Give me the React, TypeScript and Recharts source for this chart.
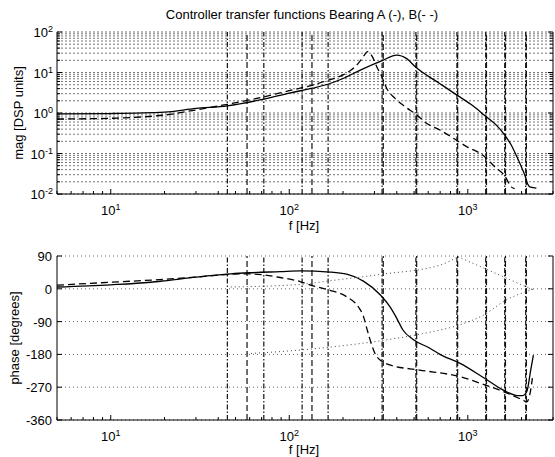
import React from 'react';
import { LineChart, Line, XAxis, YAxis, CartesianGrid, ReferenceLine } from 'recharts';

const FONT = '"Liberation Sans", Arial, Helvetica, sans-serif';

// axis ticks
const FREQ_TICKS = [5, 6, 7, 8, 9, 10, 20, 30, 40, 50, 60, 70, 80, 90, 100, 200, 300, 400, 500, 600, 700, 800, 900, 1000, 2000, 3000];
const FREQ_LABELS = [10, 100, 1000];
const MAG_TICKS = [
  0.01, 0.02, 0.03, 0.04, 0.05, 0.06, 0.07, 0.08, 0.09,
  0.1, 0.2, 0.3, 0.4, 0.5, 0.6, 0.7, 0.8, 0.9,
  1, 2, 3, 4, 5, 6, 7, 8, 9,
  10, 20, 30, 40, 50, 60, 70, 80, 90,
  100,
];
const MAG_LABELS = [0.01, 0.1, 1, 10, 100];
const PHASE_TICKS = [-360, -270, -180, -90, 0, 90];

// vertical marker frequencies (Hz)
const MARKS_DASHDOT = [45, 72, 118, 165, 331, 512, 869, 1260, 1610, 2110];
const MARKS_DASHED = [58, 134, 336, 517, 877, 1272, 1625, 2128];

// magnitude, bearing A (solid)
const magA = [
  { f: 5, v: 0.95 }, { f: 10, v: 0.97 }, { f: 20, v: 1.05 }, { f: 30, v: 1.3 },
  { f: 45, v: 1.5 }, { f: 72, v: 2.2 }, { f: 100, v: 3.1 }, { f: 135, v: 4.1 },
  { f: 166, v: 5.2 }, { f: 200, v: 7.1 }, { f: 250, v: 11.5 }, { f: 334, v: 20 },
  { f: 400, v: 27 }, { f: 455, v: 22 }, { f: 512, v: 13.4 }, { f: 698, v: 5.3 },
  { f: 865, v: 2.8 }, { f: 1072, v: 1.49 }, { f: 1254, v: 0.84 }, { f: 1440, v: 0.51 },
  { f: 1610, v: 0.286 }, { f: 1750, v: 0.162 }, { f: 1900, v: 0.076 }, { f: 2030, v: 0.039 },
  { f: 2100, v: 0.027 }, { f: 2160, v: 0.018 }, { f: 2250, v: 0.0147 }, { f: 2420, v: 0.0139 },
];

// magnitude, bearing B (dashed)
const magB = [
  { f: 5, v: 0.71 }, { f: 10, v: 0.74 }, { f: 15, v: 0.8 }, { f: 20, v: 0.89 },
  { f: 30, v: 1.19 }, { f: 45, v: 1.64 }, { f: 72, v: 2.5 }, { f: 100, v: 3.56 },
  { f: 135, v: 4.9 }, { f: 166, v: 6.5 }, { f: 200, v: 8.7 }, { f: 222, v: 11.5 },
  { f: 244, v: 17 }, { f: 262, v: 26 }, { f: 274, v: 32.7 }, { f: 292, v: 24.6 },
  { f: 309, v: 13.9 }, { f: 330, v: 7.9 }, { f: 351, v: 4.1 }, { f: 391, v: 2.3 },
  { f: 445, v: 1.43 }, { f: 512, v: 0.93 }, { f: 587, v: 0.56 }, { f: 698, v: 0.38 },
  { f: 828, v: 0.24 }, { f: 980, v: 0.15 }, { f: 1225, v: 0.088 }, { f: 1415, v: 0.047 },
  { f: 1610, v: 0.028 }, { f: 1750, v: 0.015 }, { f: 1830, v: 0.0135 },
];

// phase, bearing A (solid)
const phA = [
  { f: 5, p: 5 }, { f: 10, p: 11 }, { f: 16.7, p: 18 }, { f: 20, p: 22 }, { f: 30, p: 32 },
  { f: 47, p: 41 }, { f: 60, p: 44 }, { f: 89, p: 47 }, { f: 115, p: 49 }, { f: 169, p: 46 },
  { f: 210, p: 40 }, { f: 260, p: 21 }, { f: 324, p: -17 }, { f: 366, p: -49 }, { f: 400, p: -81 },
  { f: 433, p: -113 }, { f: 494, p: -139 }, { f: 613, p: -163 }, { f: 698, p: -180 }, { f: 900, p: -204 },
  { f: 1245, p: -246 }, { f: 1580, p: -278 }, { f: 1900, p: -293 }, { f: 2030, p: -293 },
  { f: 2140, p: -282 }, { f: 2250, p: -223 }, { f: 2330, p: -182 },
];

// phase, bearing B (dashed)
const phB = [
  { f: 5, p: 10 }, { f: 10, p: 18 }, { f: 20, p: 26 }, { f: 30, p: 32 }, { f: 47, p: 40 },
  { f: 60, p: 41 }, { f: 72, p: 38 }, { f: 89, p: 31 }, { f: 115, p: 20 }, { f: 136, p: 8 },
  { f: 169, p: -4 }, { f: 210, p: -22 }, { f: 244, p: -50 }, { f: 260, p: -75 }, { f: 274, p: -115 },
  { f: 290, p: -155 }, { f: 309, p: -186 }, { f: 366, p: -209 }, { f: 538, p: -223 }, { f: 900, p: -241 },
  { f: 1220, p: -262 }, { f: 1580, p: -282 }, { f: 2030, p: -305 }, { f: 2140, p: -310 },
  { f: 2220, p: -292 }, { f: 2300, p: -245 },
];

// thin dotted phase traces
const dotA = [{ f: 47, p: 5 }, { f: 115, p: 12 }, { f: 169, p: 22 }, { f: 330, p: 40 }, { f: 700, p: 65 }, { f: 880, p: 88 }];
const dotA2 = [{ f: 880, p: 88 }, { f: 2300, p: -2 }];
const dotB = [{ f: 58, p: -178 }, { f: 115, p: -168 }, { f: 200, p: -156 }, { f: 330, p: -142 }, { f: 600, p: -120 }, { f: 900, p: -99 }, { f: 1245, p: -70 }, { f: 1610, p: -33 }, { f: 2330, p: -1 }];

const BottomFreqTick = ({ x, y, payload }: any) => {
  const v = payload.value;
  const major = FREQ_LABELS.includes(v);
  return (
    <g>
      <line x1={x} x2={x} y1={y} y2={y - (major ? 5 : 3)} stroke="#000" />
      {major && (
        <text x={x} y={y + 21} textAnchor="middle" fontSize={13} fontFamily={FONT} fill="#000">
          10<tspan dy={-5} fontSize={9}>{Math.round(Math.log10(v))}</tspan>
        </text>
      )}
    </g>
  );
};

const TopFreqTick = ({ x, y, payload }: any) => {
  const major = FREQ_LABELS.includes(payload.value);
  return <line x1={x} x2={x} y1={y} y2={y + (major ? 5 : 3)} stroke="#000" />;
};

const MagTick = ({ x, y, payload }: any) => {
  const v = payload.value;
  const major = MAG_LABELS.includes(v);
  return (
    <g>
      <line x1={x} x2={x + (major ? 5 : 3)} y1={y} y2={y} stroke="#000" />
      {major && (
        <text x={x - 4} y={y + 5} textAnchor="end" fontSize={13} fontFamily={FONT} fill="#000">
          10<tspan dy={-5} fontSize={9}>{Math.round(Math.log10(v))}</tspan>
        </text>
      )}
    </g>
  );
};

const RightMagTick = ({ x, y, payload }: any) => {
  const major = MAG_LABELS.includes(payload.value);
  return <line x1={x} x2={x - (major ? 5 : 3)} y1={y} y2={y} stroke="#000" />;
};

const PhaseTick = ({ x, y, payload }: any) => (
  <g>
    <line x1={x} x2={x + 5} y1={y} y2={y} stroke="#000" />
    <text x={x - 5} y={y + 5} textAnchor="end" fontSize={13} fontFamily={FONT} fill="#000">
      {payload.value}
    </text>
  </g>
);

const RightPhaseTick = ({ x, y }: any) => <line x1={x} x2={x - 5} y1={y} y2={y} stroke="#000" />;

const markerLines = () => [
  ...MARKS_DASHDOT.map((f) => (
    <ReferenceLine key={'dd' + f} x={f} stroke="#111" strokeWidth={1.2} strokeDasharray="5 2 1.5 2" />
  )),
  ...MARKS_DASHED.map((f) => (
    <ReferenceLine key={'da' + f} x={f} stroke="#111" strokeWidth={1.2} strokeDasharray="6 3" />
  )),
];

const label: React.CSSProperties = {
  position: 'absolute',
  fontFamily: FONT,
  fontSize: 13,
  lineHeight: '13px',
  whiteSpace: 'nowrap',
  color: '#000',
};

export default function App() {
  return (
    <div style={{ position: 'absolute', left: 0, top: 0, width: 555, height: 457, background: '#fff' }}>
      <div style={{ ...label, left: 302, top: 8, transform: 'translateX(-50%)' }}>
        Controller transfer functions Bearing A (-), B(- -)
      </div>

      <div style={{ position: 'absolute', left: 0, top: 0 }}>
        <LineChart width={555} height={230} margin={{ top: 32, right: 0, bottom: 0, left: 0 }}>
          <CartesianGrid vertical={false} stroke="#777" strokeDasharray="2 2" />
          <XAxis
            dataKey="f" type="number" scale="log" domain={[5, 3000]} allowDataOverflow
            ticks={FREQ_TICKS} interval={0} tickSize={0} tickMargin={0} tickLine={false}
            tick={<BottomFreqTick />} height={36} axisLine={{ stroke: '#000' }}
          />
          <XAxis
            xAxisId="t" orientation="top" type="number" scale="log" domain={[5, 3000]} allowDataOverflow
            ticks={FREQ_TICKS} interval={0} tickSize={0} tickMargin={0} tickLine={false}
            tick={<TopFreqTick />} height={0} axisLine={{ stroke: '#000' }}
          />
          <YAxis
            type="number" scale="log" domain={[0.01, 100]} allowDataOverflow
            ticks={MAG_TICKS} interval={0} tickSize={0} tickMargin={0} tickLine={false}
            tick={<MagTick />} width={57} axisLine={{ stroke: '#000' }}
          />
          <YAxis
            yAxisId="r" orientation="right" type="number" scale="log" domain={[0.01, 100]} allowDataOverflow
            ticks={MAG_TICKS} interval={0} tickSize={0} tickMargin={0} tickLine={false}
            tick={<RightMagTick />} width={2} axisLine={{ stroke: '#000' }}
          />
          {markerLines()}
          <Line data={magB} dataKey="v" type="monotone" stroke="#000" strokeWidth={1.3} strokeDasharray="7 4" dot={false} isAnimationActive={false} />
          <Line data={magA} dataKey="v" type="monotone" stroke="#000" strokeWidth={1.3} dot={false} isAnimationActive={false} />
        </LineChart>
      </div>

      <div style={{ position: 'absolute', left: 0, top: 230 }}>
        <LineChart width={555} height={227} margin={{ top: 26, right: 0, bottom: 0, left: 0 }}>
          <CartesianGrid vertical={false} stroke="#666" strokeDasharray="1 3" />
          <XAxis
            dataKey="f" type="number" scale="log" domain={[5, 3000]} allowDataOverflow
            ticks={FREQ_TICKS} interval={0} tickSize={0} tickMargin={0} tickLine={false}
            tick={<BottomFreqTick />} height={37} axisLine={{ stroke: '#000' }}
          />
          <XAxis
            xAxisId="t" orientation="top" type="number" scale="log" domain={[5, 3000]} allowDataOverflow
            ticks={FREQ_TICKS} interval={0} tickSize={0} tickMargin={0} tickLine={false}
            tick={<TopFreqTick />} height={0} axisLine={{ stroke: '#000' }}
          />
          <YAxis
            type="number" domain={[-360, 90]} allowDataOverflow
            ticks={PHASE_TICKS} interval={0} tickSize={0} tickMargin={0} tickLine={false}
            tick={<PhaseTick />} width={57} axisLine={{ stroke: '#000' }}
          />
          <YAxis
            yAxisId="r" orientation="right" type="number" domain={[-360, 90]} allowDataOverflow
            ticks={PHASE_TICKS} interval={0} tickSize={0} tickMargin={0} tickLine={false}
            tick={<RightPhaseTick />} width={2} axisLine={{ stroke: '#000' }}
          />
          {markerLines()}
          <Line data={dotA} dataKey="p" type="monotone" stroke="#444" strokeWidth={1} strokeDasharray="1 3" dot={false} isAnimationActive={false} />
          <Line data={dotA2} dataKey="p" type="linear" stroke="#444" strokeWidth={1} strokeDasharray="1 3" dot={false} isAnimationActive={false} />
          <Line data={dotB} dataKey="p" type="monotone" stroke="#444" strokeWidth={1} strokeDasharray="1 3" dot={false} isAnimationActive={false} />
          <Line data={phB} dataKey="p" type="monotone" stroke="#000" strokeWidth={1.3} strokeDasharray="7 4" dot={false} isAnimationActive={false} />
          <Line data={phA} dataKey="p" type="monotone" stroke="#000" strokeWidth={1.3} dot={false} isAnimationActive={false} />
        </LineChart>
      </div>

      <div style={{ ...label, left: 304, top: 219, transform: 'translateX(-50%)' }}>f [Hz]</div>
      <div style={{ ...label, left: 304, top: 443, transform: 'translateX(-50%)' }}>f [Hz]</div>
      <div style={{ ...label, left: 18, top: 113, transform: 'translate(-50%, -50%) rotate(-90deg)' }}>mag [DSP units]</div>
      <div style={{ ...label, left: 14, top: 338, transform: 'translate(-50%, -50%) rotate(-90deg)' }}>phase [degrees]</div>
    </div>
  );
}
